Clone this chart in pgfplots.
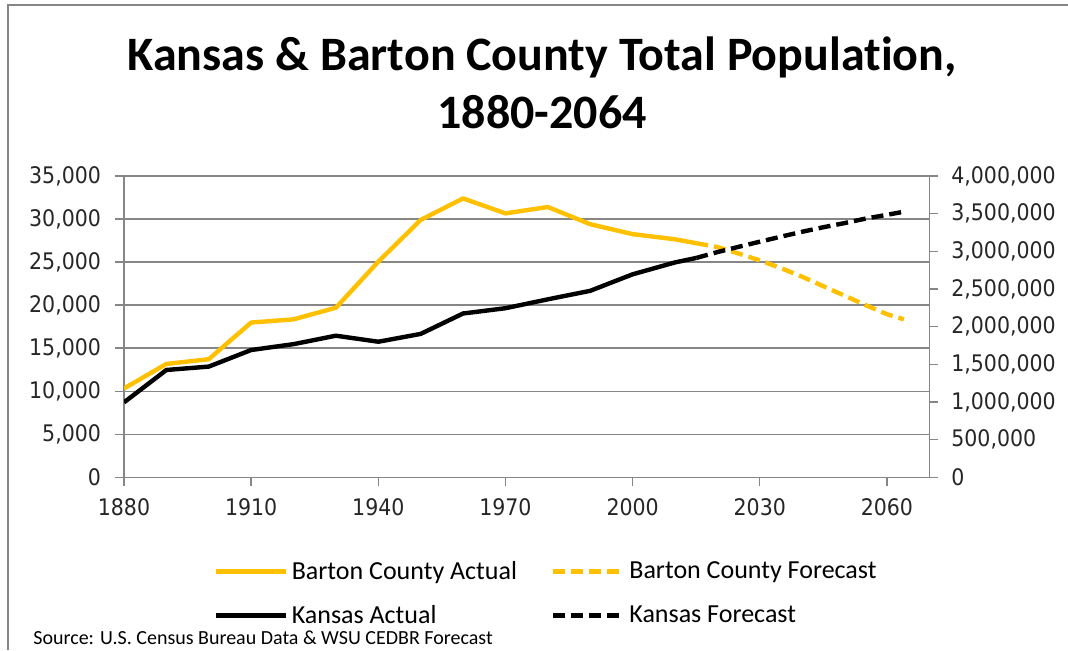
\documentclass[border=0pt]{standalone}
\usepackage{fontspec}
\setmainfont{Carlito}[Ligatures=NoCommon]
\newfontfamily\tickfont{DejaVu Sans Condensed}
\usepackage{pgfplots}
\usepackage{pgfplotstable}
\pgfplotsset{compat=1.18}
\definecolor{gold}{HTML}{FFC000}
\definecolor{gridgray}{HTML}{868686}

\pgfplotstableread{
year pop
1880 10320
1890 13170
1900 13720
1910 17980
1920 18350
1930 19700
1940 25050
1950 29900
1960 32400
1970 30660
1980 31400
1990 29400
2000 28250
2010 27650
2015 27200
}\bartonact

\pgfplotstableread{
year pop
2015 27200
2020 26750
2025 26000
2030 25200
2035 24300
2040 23300
2045 22200
2050 21100
2055 20000
2060 18950
2064 18350
}\bartonfc

\pgfplotstableread{
year pop
1880 995000
1890 1425000
1900 1470000
1910 1690000
1920 1768000
1930 1880000
1940 1800000
1950 1904000
1960 2175000
1970 2245000
1980 2363000
1990 2476000
2000 2695000
2010 2853000
2015 2912000
}\kansasact

\pgfplotstableread{
year pop
2015 2912000
2020 2990000
2025 3060000
2030 3128000
2035 3195000
2040 3260000
2045 3320000
2050 3375000
2055 3435000
2060 3485000
2064 3526000
}\kansasfc

\pgfplotsset{
  common/.style={
    at={(62pt,-238.65pt)}, anchor=south west,
    scale only axis, width=402.65pt, height=150.65pt,
    xmin=1880, xmax=2070,
    xtick={1880,1910,...,2060},
    axis line style={gridgray, line width=0.7pt, -},
    tick style={gridgray, line width=0.7pt},
    tick align=outside, major tick length=4.5pt,
    ticklabel style={font=\tickfont\fontsize{11.4}{13}\selectfont, text=black!85},
    xticklabel style={/pgf/number format/set thousands separator={}, yshift=-2.5pt},
    yticklabel style={/pgf/number format/fixed, /pgf/number format/1000 sep={,}},
    scaled y ticks=false,
    /pgf/number format/assume math mode=true,
  }
}

\begin{document}
\begin{tikzpicture}[x=1pt,y=1pt]
\useasboundingbox (0,0) rectangle (534,-325);
\draw[gridgray, line width=1pt] (4,-325) -- (4,-2.5) -- (534,-2.5);
\node[anchor=base, font=\fontsize{24}{28}\selectfont\bfseries] at (271,-35.35) {Kansas \& Barton County Total Population,};
\node[anchor=base, font=\fontsize{24}{28}\selectfont\bfseries] at (271,-64.15) {1880-2064};

\begin{axis}[common,
  ymin=0, ymax=35000, ytick={0,5000,...,35000},
  axis x line*=bottom, axis y line*=left,
  yticklabel style={xshift=-3.5pt},
  ymajorgrids, grid style={gridgray, line width=0.7pt},
]
\addplot[gold, line width=2.2pt, line join=round] table[x=year,y=pop] {\bartonact};
\addplot[gold, line width=2.2pt, dash pattern=on 6pt off 3pt] table[x=year,y=pop] {\bartonfc};
\end{axis}

\begin{axis}[common,
  ymin=0, ymax=4000000, ytick={0,500000,...,4000000},
  axis y line*=right, axis x line=none,
  yticklabel style={xshift=3pt},
  legend columns=2,
  legend cell align=left,
  legend image code/.code={\draw[#1] (0pt,0pt) -- (35pt,0pt);},
  legend style={at={(0.1105,-0.2645)}, anchor=north west, draw=none, fill=none,
    font=\fontsize{13}{15}\selectfont, inner sep=0pt,
    /tikz/every even column/.append style={column sep=15pt},
    row sep=8pt, nodes={inner sep=2pt, text depth=0.1em}},
]
\addlegendimage{gold, line width=2.2pt}
\addlegendentry{Barton County Actual}
\addlegendimage{gold, line width=2.2pt, dash pattern=on 6pt off 3pt}
\addlegendentry{Barton County Forecast}
\addplot[black, line width=2.2pt, line join=round] table[x=year,y=pop] {\kansasact};
\addlegendentry{Kansas Actual}
\addplot[black, line width=2.2pt, dash pattern=on 6pt off 3pt] table[x=year,y=pop] {\kansasfc};
\addlegendentry{Kansas Forecast}
\end{axis}

\node[anchor=base west, inner sep=0pt, font=\fontsize{10}{12}\selectfont] at (16.5,-322) {Source: U.S. Census Bureau Data \& WSU CEDBR Forecast};
\end{tikzpicture}
\end{document}
